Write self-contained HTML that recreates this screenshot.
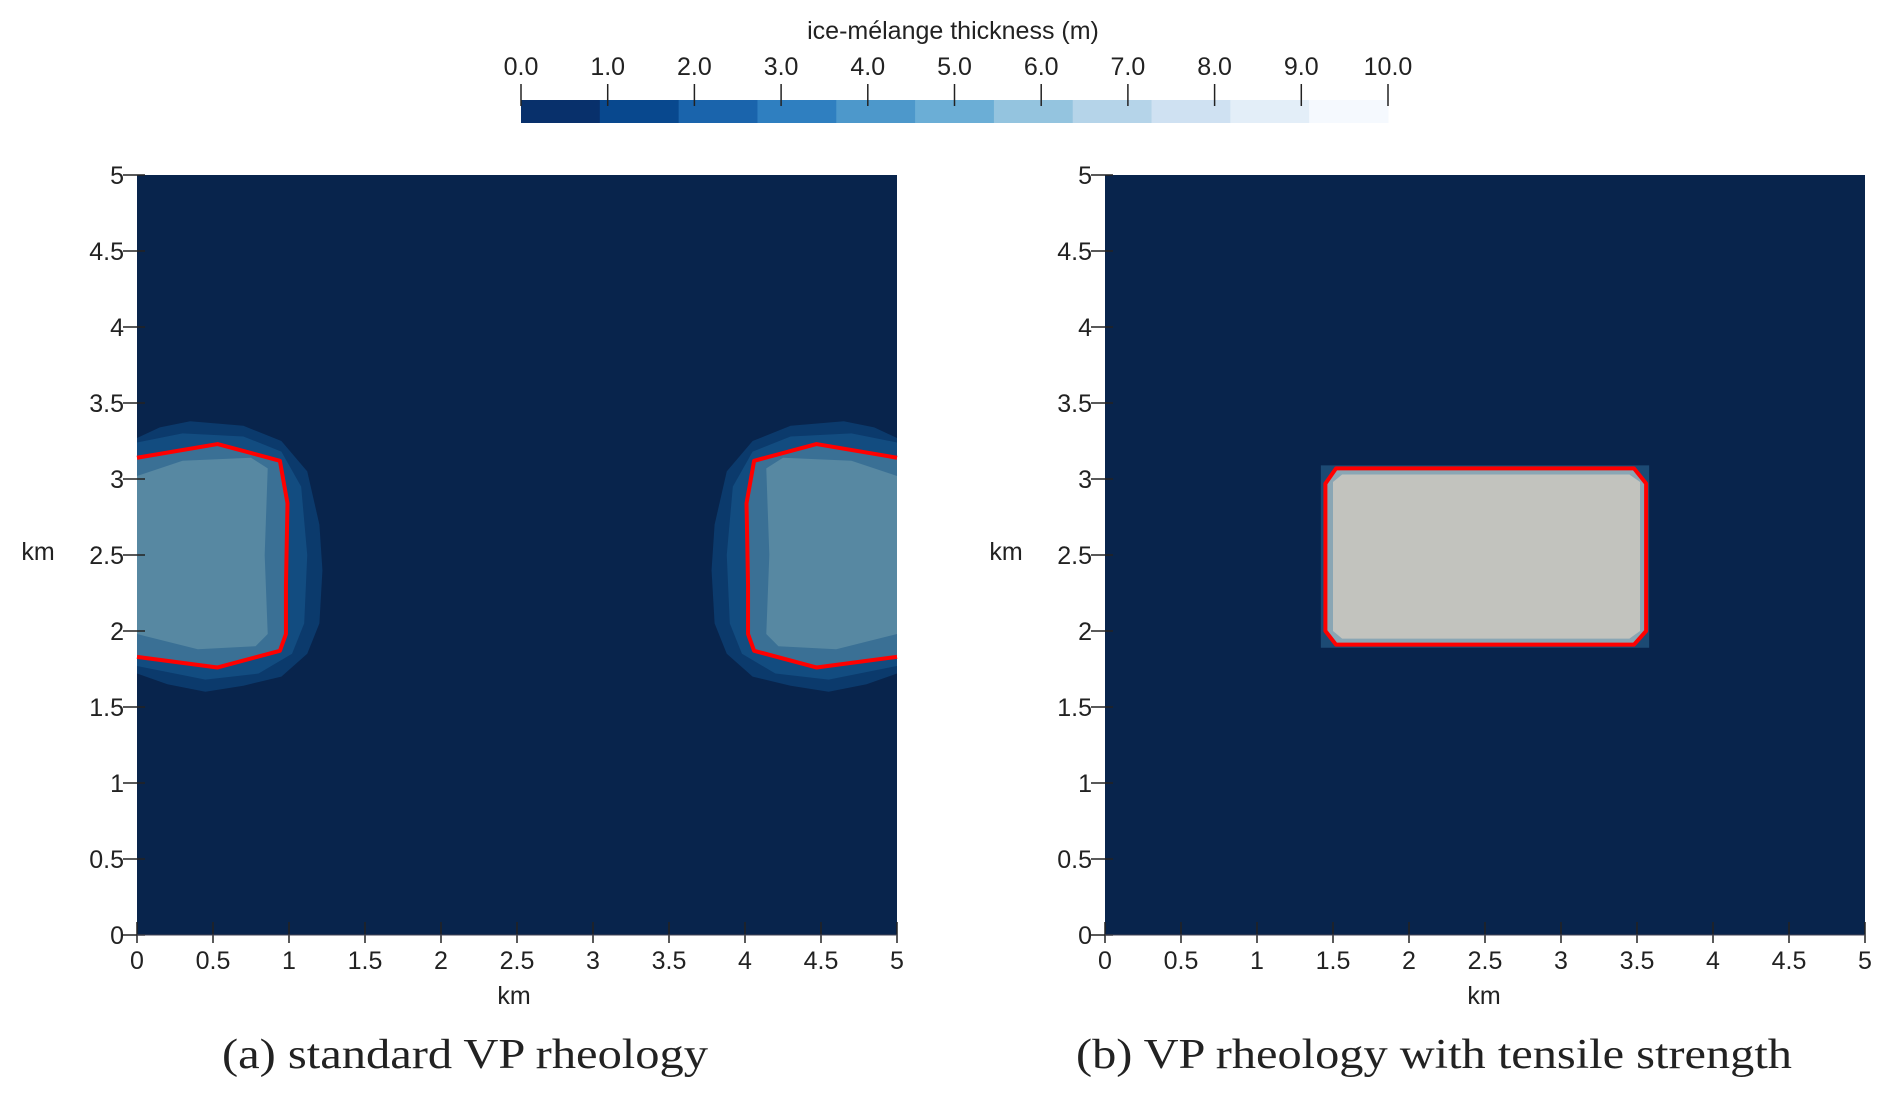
<!DOCTYPE html>
<html><head><meta charset="utf-8"><style>
html,body{margin:0;padding:0;background:#fff;}
svg{display:block;}
text{font-family:"Liberation Sans",sans-serif;fill:#222;}
</style></head><body>
<svg id="fig" width="1892" height="1098" viewBox="0 0 1892 1098">
<g id="cbar"></g>
<g id="pa"></g>
<g id="pb"></g>
<text x="465" y="1068" text-anchor="middle" style="font-family:'Liberation Serif',serif;font-size:42px" textLength="486" lengthAdjust="spacingAndGlyphs">(a) standard VP rheology</text>
<text x="1434" y="1068" text-anchor="middle" style="font-family:'Liberation Serif',serif;font-size:42px" textLength="716" lengthAdjust="spacingAndGlyphs">(b) VP rheology with tensile strength</text>
</svg>
<script>
const NS="http://www.w3.org/2000/svg";
const cbTicks=["0.0","1.0","2.0","3.0","4.0","5.0","6.0","7.0","8.0","9.0","10.0"];
const cbColors=["#08306b","#08488e","#1a64ac","#2f7fc0","#4d98cb","#6baed6","#94c4df","#b5d4e9","#cfe1f2","#e3eef8","#f5f9fe"];
const axisTicks=[0,0.5,1,1.5,2,2.5,3,3.5,4,4.5,5];
const axisTickLabels=["0","0.5","1","1.5","2","2.5","3","3.5","4","4.5","5"];
const blobOuter=[[0,3.27],[0.15,3.34],[0.35,3.38],[0.7,3.35],[0.95,3.25],[1.12,3.05],[1.2,2.7],[1.22,2.4],[1.2,2.05],[1.12,1.85],[0.95,1.7],[0.7,1.64],[0.45,1.6],[0.2,1.65],[0,1.72]];
const blobMid=[[0,3.24],[0.3,3.3],[0.7,3.28],[0.95,3.18],[1.08,2.95],[1.12,2.5],[1.1,2.05],[1.02,1.85],[0.8,1.72],[0.45,1.68],[0,1.77]];
const blobIn=[[0,3.14],[0.53,3.23],[0.94,3.12],[0.99,2.84],[0.98,2.3],[0.98,1.98],[0.94,1.87],[0.53,1.76],[0,1.83]];
const blobCore=[[0,3.02],[0.3,3.12],[0.75,3.14],[0.86,3.07],[0.84,2.5],[0.86,1.98],[0.78,1.9],[0.4,1.88],[0,1.98]];
const rectOutline=[[1.45,2.97],[1.52,3.07],[3.48,3.07],[3.56,2.97],[3.56,2.0],[3.48,1.91],[1.52,1.91],[1.45,2.0]];
const rectFill=[[1.5,2.98],[1.56,3.03],[3.45,3.03],[3.52,2.98],[3.52,2.0],[3.45,1.95],[1.56,1.95],[1.5,2.0]];
const rectHalo=[[1.42,3.09],[3.58,3.09],[3.58,1.89],[1.42,1.89]];

function el(tag,attrs,parent){const e=document.createElementNS(NS,tag);for(const k in attrs)e.setAttribute(k,attrs[k]);parent.appendChild(e);return e;}

const cb=document.getElementById('cbar');
const cbX0=521,cbX1=1388,cbY=100,cbH=23;
const cbScale=v=>cbX0+(v/10)*(cbX1-cbX0);
const segW=(cbX1-cbX0)/cbColors.length;
cbColors.forEach((c,i)=>{const r=el('rect',{x:cbX0+i*segW,y:cbY,width:segW+0.5,height:cbH,fill:c},cb);

});
cbTicks.forEach(t=>{const x=cbScale(parseFloat(t));
const l=el('line',{x1:x,y1:84,x2:x,y2:106,stroke:'#222','stroke-width':1.5},cb);


const tx=el('text',{x:x,y:75,'text-anchor':'middle','font-size':25},cb);tx.textContent=t;

});
const ct=el('text',{x:953,y:39,'text-anchor':'middle','font-size':25},cb);ct.textContent="ice-mélange thickness (m)";



function panel(g,x0){
  const sx=v=>x0+v*152, sy=v=>935-v*152;
  const bg=el('rect',{x:x0,y:175,width:760,height:760,fill:'#08244c'},g);
  
  
  const pts=(arr,mir)=>arr.map(p=>sx(mir?5-p[0]:p[0])+','+sy(p[1])).join(' ');
  return {sx,sy,pts};
}
function axes(g,x0,sx,sy,ylx,xlx){
  axisTicks.forEach((t,i)=>{
    const y=sy(t);
    const l=el('line',{x1:x0-14,y1:y,x2:x0+8,y2:y,stroke:'#222','stroke-width':1.5},g);
    
    
    const tx=el('text',{x:x0-13,y:y+9,'text-anchor':'end','font-size':25},g);tx.textContent=axisTickLabels[i];
    
    
    const x=sx(t);
    const l2=el('line',{x1:x,y1:922,x2:x,y2:943,stroke:'#222','stroke-width':1.5},g);
    
    
    const tx2=el('text',{x:x,y:969,'text-anchor':'middle','font-size':25},g);tx2.textContent=axisTickLabels[i];
    
    
  });
  const ax=el('line',{x1:x0,y1:935,x2:x0+760,y2:935,stroke:'#445','stroke-width':1},g);
  
  
  const yl=el('text',{x:ylx,y:560,'text-anchor':'middle','font-size':25},g);yl.textContent='km';
  
  
  const xl=el('text',{x:xlx,y:1004,'text-anchor':'middle','font-size':25},g);xl.textContent='km';
  
  
}

const ga=document.getElementById('pa');
const A=panel(ga,137);
[false,true].forEach(m=>{
  const p1=el('polygon',{points:A.pts(blobOuter,m),fill:'#0b3a6c'},ga);
  
  
  const p2=el('polygon',{points:A.pts(blobMid,m),fill:'#124c80'},ga);
  
  
  const p3=el('polygon',{points:A.pts(blobIn,m),fill:'#3a7095'},ga);
  
  
  const p4=el('polygon',{points:A.pts(blobCore,m),fill:'#5788a2'},ga);
  
  
  const p5=el('polyline',{points:A.pts(blobIn,m),fill:'none',stroke:'#ff0000','stroke-width':4,'stroke-linejoin':'round'},ga);
  
  
});
axes(ga,137,A.sx,A.sy,38,514);

const gb=document.getElementById('pb');
const B=panel(gb,1105);
const h=el('polygon',{points:B.pts(rectHalo,false),fill:'#1c4a74'},gb);


const rf=el('polygon',{points:B.pts(rectOutline,false),fill:'#8aa6b4'},gb);


const rc=el('polygon',{points:B.pts(rectFill,false),fill:'#c2c3be'},gb);


const ro=el('polygon',{points:B.pts(rectOutline,false),fill:'none',stroke:'#ff0000','stroke-width':4,'stroke-linejoin':'round'},gb);


axes(gb,1105,B.sx,B.sy,1006,1484);
</script>
</body></html>
